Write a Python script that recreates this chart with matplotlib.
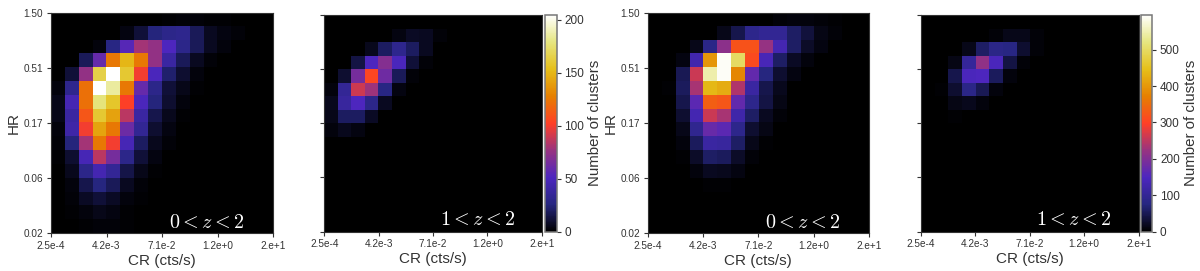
import numpy as np
import matplotlib
matplotlib.use("Agg")
import matplotlib.pyplot as plt

plt.rcParams['font.family'] = ['Liberation Sans', 'DejaVu Sans']
plt.rcParams['mathtext.fontset'] = 'cm'

x_tick_labels = ["2.5e-4", "4.2e-3", "7.1e-2", "1.2e+0", "2.e+1"]
y_tick_labels = ["0.02", "0.06", "0.17", "0.51", "1.50"]
panel_labels = [r"$0 < z < 2$", r"$1 < z < 2$"]
x_label = "CR (cts/s)"
y_label = "HR"
cbar_label = "Number of clusters"

# rows run from the top (HR = 1.50) downwards
counts_a1 = [
    [0, 0, 0, 0, 0, 0, 0, 0, 1, 2, 2, 1, 1, 0, 0, 0],
    [0, 0, 0, 0, 0, 4, 12, 25, 30, 32, 18, 7, 4, 2, 0, 0],
    [0, 0, 0, 3, 28, 55, 80, 75, 52, 30, 18, 7, 3, 0, 0, 0],
    [0, 0, 18, 60, 125, 150, 125, 75, 40, 18, 7, 2, 0, 0, 0, 0],
    [0, 12, 75, 165, 205, 160, 100, 50, 22, 10, 3, 0, 0, 0, 0, 0],
    [3, 32, 122, 205, 185, 125, 60, 30, 12, 5, 1, 0, 0, 0, 0, 0],
    [5, 47, 122, 178, 158, 102, 50, 25, 10, 3, 0, 0, 0, 0, 0, 0],
    [5, 40, 112, 160, 142, 85, 40, 16, 6, 1, 0, 0, 0, 0, 0, 0],
    [3, 42, 100, 143, 125, 62, 34, 10, 4, 0, 0, 0, 0, 0, 0, 0],
    [2, 25, 80, 125, 100, 48, 20, 6, 2, 0, 0, 0, 0, 0, 0, 0],
    [1, 10, 48, 85, 65, 30, 12, 4, 0, 0, 0, 0, 0, 0, 0, 0],
    [0, 6, 30, 46, 35, 15, 5, 1, 0, 0, 0, 0, 0, 0, 0, 0],
    [0, 3, 16, 26, 18, 7, 2, 0, 0, 0, 0, 0, 0, 0, 0, 0],
    [0, 2, 8, 12, 8, 3, 1, 0, 0, 0, 0, 0, 0, 0, 0, 0],
    [0, 1, 3, 5, 4, 1, 0, 0, 0, 0, 0, 0, 0, 0, 0, 0],
    [0, 0, 1, 2, 2, 1, 0, 0, 0, 0, 0, 0, 0, 0, 0, 0],
]
counts_a2 = [
    [0, 0, 0, 0, 0, 0, 0, 0, 0, 0, 0, 0, 0, 0, 0, 0],
    [0, 0, 0, 0, 0, 4, 8, 7, 2, 0, 0, 0, 0, 0, 0, 0],
    [0, 0, 0, 6, 20, 32, 20, 7, 0, 0, 0, 0, 0, 0, 0, 0],
    [0, 0, 14, 52, 70, 50, 12, 2, 0, 0, 0, 0, 0, 0, 0, 0],
    [0, 10, 65, 105, 63, 18, 2, 0, 0, 0, 0, 0, 0, 0, 0, 0],
    [3, 35, 90, 78, 28, 4, 0, 0, 0, 0, 0, 0, 0, 0, 0, 0],
    [6, 38, 52, 30, 7, 0, 0, 0, 0, 0, 0, 0, 0, 0, 0, 0],
    [5, 20, 20, 8, 0, 0, 0, 0, 0, 0, 0, 0, 0, 0, 0, 0],
    [3, 6, 4, 0, 0, 0, 0, 0, 0, 0, 0, 0, 0, 0, 0, 0],
    [0, 0, 0, 0, 0, 0, 0, 0, 0, 0, 0, 0, 0, 0, 0, 0],
    [0, 0, 0, 0, 0, 0, 0, 0, 0, 0, 0, 0, 0, 0, 0, 0],
    [0, 0, 0, 0, 0, 0, 0, 0, 0, 0, 0, 0, 0, 0, 0, 0],
    [0, 0, 0, 0, 0, 0, 0, 0, 0, 0, 0, 0, 0, 0, 0, 0],
    [0, 0, 0, 0, 0, 0, 0, 0, 0, 0, 0, 0, 0, 0, 0, 0],
    [0, 0, 0, 0, 0, 0, 0, 0, 0, 0, 0, 0, 0, 0, 0, 0],
    [0, 0, 0, 0, 0, 0, 0, 0, 0, 0, 0, 0, 0, 0, 0, 0],
]
counts_b1 = [
    [0, 0, 0, 0, 0, 0, 0, 0, 0, 5, 8, 8, 6, 3, 0, 0],
    [0, 0, 0, 0, 0, 15, 45, 90, 100, 100, 60, 35, 12, 6, 0, 0],
    [0, 0, 0, 15, 85, 210, 320, 320, 220, 135, 60, 25, 10, 0, 0, 0],
    [0, 0, 10, 130, 400, 590, 500, 310, 140, 60, 22, 8, 0, 0, 0, 0],
    [0, 0, 50, 260, 545, 590, 380, 170, 75, 30, 10, 0, 0, 0, 0, 0],
    [0, 3, 55, 235, 440, 425, 240, 115, 45, 18, 0, 0, 0, 0, 0, 0],
    [0, 1, 45, 165, 335, 325, 170, 90, 40, 12, 0, 0, 0, 0, 0, 0],
    [0, 1, 30, 135, 260, 235, 125, 60, 20, 6, 0, 0, 0, 0, 0, 0],
    [0, 0, 15, 95, 175, 165, 90, 30, 12, 0, 0, 0, 0, 0, 0, 0],
    [0, 0, 8, 55, 115, 110, 60, 15, 4, 0, 0, 0, 0, 0, 0, 0],
    [0, 0, 4, 25, 60, 55, 25, 6, 0, 0, 0, 0, 0, 0, 0, 0],
    [0, 0, 0, 8, 20, 18, 10, 2, 0, 0, 0, 0, 0, 0, 0, 0],
    [0, 0, 0, 0, 4, 3, 2, 0, 0, 0, 0, 0, 0, 0, 0, 0],
    [0, 0, 0, 0, 1, 1, 0, 0, 0, 0, 0, 0, 0, 0, 0, 0],
    [0, 0, 0, 0, 0, 0, 0, 0, 0, 0, 0, 0, 0, 0, 0, 0],
    [0, 0, 0, 0, 0, 0, 0, 0, 0, 0, 0, 0, 0, 0, 0, 0],
]
counts_b2 = [
    [0, 0, 0, 0, 0, 0, 0, 0, 0, 0, 0, 0, 0, 0, 0, 0],
    [0, 0, 0, 0, 0, 6, 15, 15, 5, 1, 0, 0, 0, 0, 0, 0],
    [0, 0, 0, 15, 60, 85, 80, 28, 6, 0, 0, 0, 0, 0, 0, 0],
    [0, 0, 12, 105, 215, 145, 40, 5, 0, 0, 0, 0, 0, 0, 0, 0],
    [0, 0, 45, 145, 150, 55, 8, 0, 0, 0, 0, 0, 0, 0, 0, 0],
    [0, 3, 30, 85, 50, 8, 0, 0, 0, 0, 0, 0, 0, 0, 0, 0],
    [0, 0, 12, 18, 8, 0, 0, 0, 0, 0, 0, 0, 0, 0, 0, 0],
    [0, 0, 3, 0, 0, 0, 0, 0, 0, 0, 0, 0, 0, 0, 0, 0],
    [0, 0, 0, 0, 0, 0, 0, 0, 0, 0, 0, 0, 0, 0, 0, 0],
    [0, 0, 0, 0, 0, 0, 0, 0, 0, 0, 0, 0, 0, 0, 0, 0],
    [0, 0, 0, 0, 0, 0, 0, 0, 0, 0, 0, 0, 0, 0, 0, 0],
    [0, 0, 0, 0, 0, 0, 0, 0, 0, 0, 0, 0, 0, 0, 0, 0],
    [0, 0, 0, 0, 0, 0, 0, 0, 0, 0, 0, 0, 0, 0, 0, 0],
    [0, 0, 0, 0, 0, 0, 0, 0, 0, 0, 0, 0, 0, 0, 0, 0],
    [0, 0, 0, 0, 0, 0, 0, 0, 0, 0, 0, 0, 0, 0, 0, 0],
    [0, 0, 0, 0, 0, 0, 0, 0, 0, 0, 0, 0, 0, 0, 0, 0],
]
vmax_a = 205
vmax_b = 596
cbar_ticks_a = [0, 50, 100, 150, 200]
cbar_ticks_b = [0, 100, 200, 300, 400, 500]

W, H = 1200, 271
fig = plt.figure(figsize=(W / 100, H / 100), dpi=100, facecolor="white")


def add_px(x0, y0, x1, y1):
    return fig.add_axes([x0 / W, 1 - y1 / H, (x1 - x0) / W, (y1 - y0) / H])


FRAME = "#333333"
TXT = "#333333"


def panel(box, data, vmax, label, label_y, show_y):
    ax = add_px(*box)
    im = ax.imshow(np.array(data, float), cmap="CMRmap", vmin=0, vmax=vmax,
                   origin="upper", extent=[0, 16, 0, 16], aspect="auto",
                   interpolation="nearest")
    ticks = np.arange(0, 17, 4)
    ax.set_xticks(ticks, x_tick_labels)
    ax.set_yticks(ticks, y_tick_labels if show_y else [""] * 5)
    ax.tick_params(length=3, width=0.8, labelsize=7.2, pad=2.5,
                   color=FRAME, labelcolor=TXT)
    for s in ax.spines.values():
        s.set_color(FRAME)
        s.set_linewidth(0.8)
    ax.set_xlabel(x_label, fontsize=11, color=TXT, labelpad=2)
    if show_y:
        ax.set_ylabel(y_label, fontsize=11, color=TXT, labelpad=2)
    ax.text(0.53, label_y, label, transform=ax.transAxes, color="white",
            fontsize=14.5, ha="left", va="center")
    return im


def colorbar(box, im, ticks):
    cax = add_px(*box)
    cb = fig.colorbar(im, cax=cax)
    cb.set_ticks(ticks)
    cax.tick_params(length=3, width=0.8, labelsize=8.5, pad=2.5,
                    color=FRAME, labelcolor=TXT)
    cb.outline.set_edgecolor("#777777")
    cb.outline.set_linewidth(1.1)
    cb.set_label(cbar_label, fontsize=10.8, color=TXT, labelpad=3)


panel((51, 12.7, 273, 233.3), counts_a1, vmax_a, panel_labels[0], 0.05, True)
im_a = panel((324.3, 14.7, 541.7, 231.7), counts_a2, vmax_a, panel_labels[1], 0.054, False)
colorbar((545.3, 14.7, 556.7, 231.7), im_a, cbar_ticks_a)

panel((647.7, 12.7, 869, 233.3), counts_b1, vmax_b, panel_labels[0], 0.05, True)
im_b = panel((920.7, 14.7, 1138.7, 231.7), counts_b2, vmax_b, panel_labels[1], 0.054, False)
colorbar((1141, 14.7, 1152.3, 231.7), im_b, cbar_ticks_b)

fig.savefig("out.png", dpi=100)
